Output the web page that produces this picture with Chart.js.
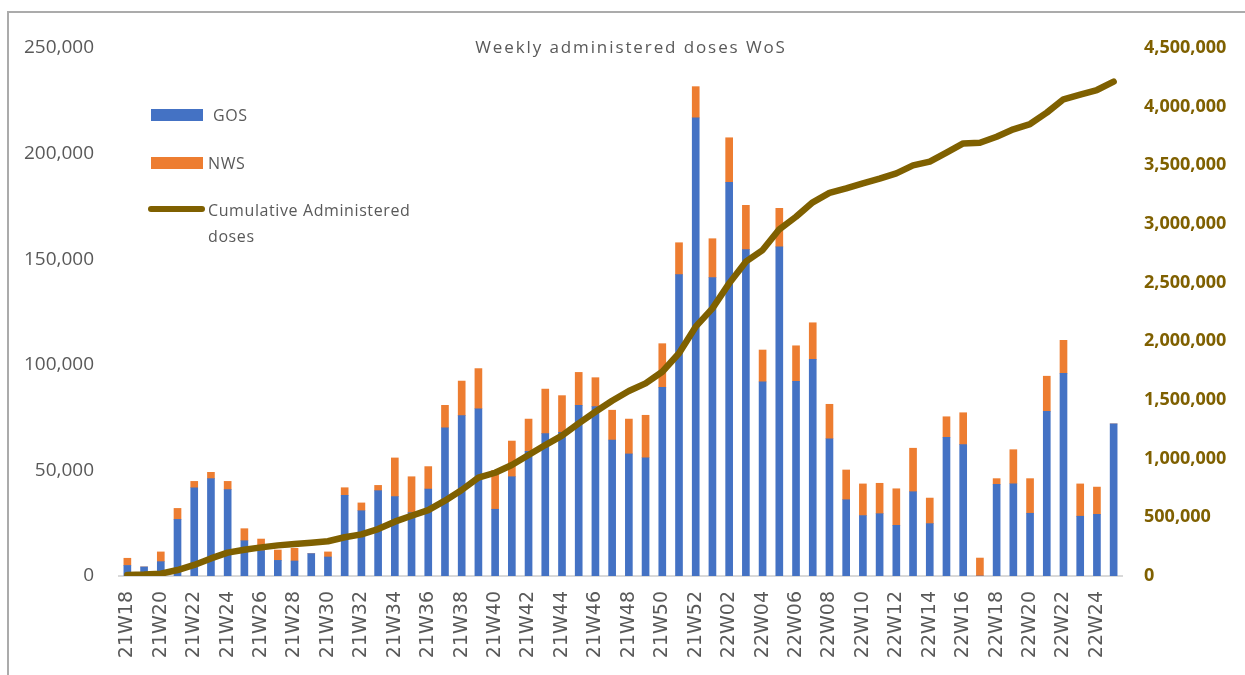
<!DOCTYPE html>
<html>
<head>
<meta charset="utf-8">
<script src="https://cdn.jsdelivr.net/npm/chart.js@4.4.1/dist/chart.umd.min.js"></script>
<style>
  html, body { margin: 0; padding: 0; background: #ffffff; overflow: hidden; }
  #wrap { position: relative; width: 1245px; height: 675px; overflow: hidden; }
  #frame { position: absolute; left: 7px; top: 11px; width: 1400px; height: 800px; border: 2px solid #ababab; box-sizing: border-box; }
  canvas { position: absolute; left: 0; top: 0; }
  .ttl { position: absolute; left: 380px; width: 502px; top: 35px; text-align: center; font: 17px "Open Sans", sans-serif; color: #595959; letter-spacing: 1.9px; }
  .lg { position: absolute; font: 16px "Open Sans", sans-serif; color: #595959; letter-spacing: 0.6px; line-height: 26px; }
  .sw { position: absolute; }
</style>
</head>
<body>
<div id="wrap">
  <div id="frame"></div>
  <canvas id="c" width="1245" height="675"></canvas>
  <div class="ttl">Weekly administered doses WoS</div>
  <div class="sw" style="left:151px;top:109px;width:52px;height:12px;background:#4472C4"></div>
  <div class="lg" style="left:213px;top:102px;">GOS</div>
  <div class="sw" style="left:151px;top:157px;width:52px;height:12px;background:#ED7D31"></div>
  <div class="lg" style="left:208px;top:150px;">NWS</div>
  <div class="sw" style="left:148px;top:206px;width:57px;height:6px;border-radius:3px;background:#7F6000"></div>
  <div class="lg" style="left:208px;top:197px;width:230px;">Cumulative Administered<br>doses</div>
</div>
<script>
const weeks = ["21W18","21W19","21W20","21W21","21W22","21W23","21W24","21W25","21W26","21W27",
  "21W28","21W29","21W30","21W31","21W32","21W33","21W34","21W35","21W36","21W37",
  "21W38","21W39","21W40","21W41","21W42","21W43","21W44","21W45","21W46","21W47",
  "21W48","21W49","21W50","21W51","21W52","22W01","22W02","22W03","22W04","22W05",
  "22W06","22W07","22W08","22W09","22W10","22W11","22W12","22W13","22W14","22W15",
  "22W16","22W17","22W18","22W19","22W20","22W21","22W22","22W23","22W24","22W25"];

const gos = [5000,4300,6800,26800,41800,46100,40900,16700,12000,7400,
  7100,10600,9000,38200,30900,40400,37600,30000,41200,70200,
  75900,79200,31600,47000,59000,67400,68000,80800,80200,64400,
  57800,56000,89300,142700,216900,141300,186400,154500,91900,155800,
  92200,102600,65000,36100,28600,29500,24000,39900,24800,65700,
  62200,0,43400,43700,29700,78000,96000,28300,29200,72000];

const nws = [3400,0,4600,5200,3000,3000,3900,5700,5500,4900,
  6000,0,2400,3600,3700,2500,18300,17000,10600,10600,
  16400,19000,18400,16900,15300,21100,17400,15600,13700,14100,
  16500,20100,20700,15100,14800,18400,21100,21000,15100,18300,
  16800,17300,16300,14100,15000,14400,17300,20600,12100,9700,
  15100,8500,2700,16100,16400,16600,15600,15300,12900,0];

const cumulative = [8000,12000,20000,51000,94000,150000,199000,224000,244000,261000,
  273000,284000,296000,330000,355000,400000,463000,514000,562000,642000,
  733000,838000,880000,946000,1031000,1116000,1196000,1301000,1400000,1494000,
  1577000,1642000,1741000,1898000,2125000,2281000,2494000,2679000,2778000,2955000,
  3062000,3185000,3265000,3304000,3347000,3386000,3432000,3500000,3531000,3608000,
  3687000,3693000,3744000,3807000,3852000,3949000,4063000,4102000,4142000,4213000];

const leftTicks = [0, 50000, 100000, 150000, 200000, 250000];
const rightTicks = [0,500000,1000000,1500000,2000000,2500000,3000000,3500000,4000000,4500000];

const fmt = v => Number(v).toLocaleString('en-US');

new Chart(document.getElementById('c'), {
  data: {
    labels: weeks,
    datasets: [
      { type: 'line', label: 'Cumulative Administered doses', data: cumulative, yAxisID: 'y2',
        borderColor: '#7F6000', backgroundColor: '#7F6000', borderWidth: 6.5, pointRadius: 0,
        tension: 0, borderCapStyle: 'round', borderJoinStyle: 'round', order: 0 },
      { type: 'bar', label: 'GOS', data: gos, yAxisID: 'y', backgroundColor: '#4472C4',
        barThickness: 7, stack: 's', order: 1 },
      { type: 'bar', label: 'NWS', data: nws, yAxisID: 'y', backgroundColor: '#ED7D31',
        barThickness: 7, stack: 's', order: 1 }
    ]
  },
  options: {
    responsive: false,
    animation: false,
    layout: { padding: { top: 48, left: 0, right: 0, bottom: 0 } },
    plugins: { legend: { display: false }, title: { display: false }, tooltip: { enabled: false } },
    scales: {
      x: {
        stacked: true,
        offset: true,
        grid: { display: false, drawTicks: false },
        border: { display: true, color: '#d9d9d9', width: 2 },
        ticks: {
          autoSkip: false, maxRotation: 90, minRotation: 90, padding: 15,
          color: '#595959', font: { family: 'DejaVu Sans', size: 19 },
          callback: function (v, i) { return i % 2 === 0 ? weeks[i] : ''; }
        },
        afterFit(s) { s.height = 99; }
      },
      y: {
        position: 'left', stacked: true, min: 0, max: 250000,
        grid: { display: false, drawTicks: false },
        border: { display: false },
        afterBuildTicks(s) { s.ticks = leftTicks.map(v => ({ value: v })); },
        ticks: { padding: 25, color: '#595959', font: { family: 'Open Sans', size: 19 }, callback: v => fmt(v) },
        afterFit(s) { s.width = 119; }
      },
      y2: {
        position: 'right', min: 0, max: 4500000,
        grid: { display: false, drawTicks: false },
        border: { display: false },
        afterBuildTicks(s) { s.ticks = rightTicks.map(v => ({ value: v })); },
        ticks: { padding: 22, color: '#7F6000', font: { family: 'Open Sans', size: 18, weight: 'bold' }, callback: v => fmt(v) },
        afterFit(s) { s.width = 123; }
      }
    }
  }
});
</script>
</body>
</html>
